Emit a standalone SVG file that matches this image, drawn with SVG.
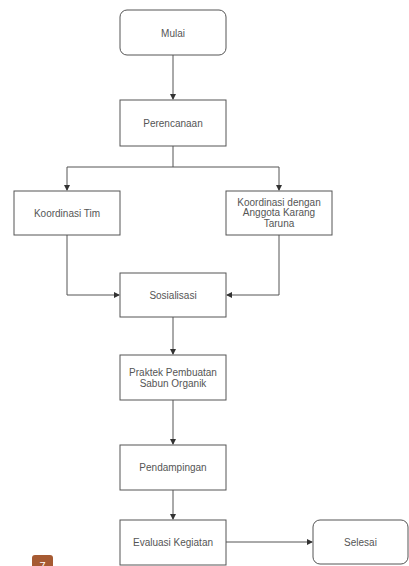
<svg xmlns="http://www.w3.org/2000/svg" width="409" height="566" viewBox="0 0 409 566">
<defs>
<style>
.box{fill:#fff;stroke:#555;stroke-width:1}
.t{font-family:"Liberation Sans",Arial,sans-serif;font-size:10px;fill:#555;text-anchor:middle}
.c{fill:none;stroke:#555;stroke-width:1}
</style>
<marker id="ah" markerWidth="6" markerHeight="6" refX="5" refY="3" orient="auto" markerUnits="userSpaceOnUse">
<path d="M0,0 L6,3 L0,6 Z" fill="#333"/>
</marker>
</defs>
<rect width="409" height="566" fill="#fff"/>
<g id="connectors">
<path class="c" d="M173,55 V99" marker-end="url(#ah)"/>
<path class="c" d="M173,146 V167 H67 V190" marker-end="url(#ah)"/>
<path class="c" d="M173,167 H279 V190" marker-end="url(#ah)"/>
<path class="c" d="M67,235 V295 H119" marker-end="url(#ah)"/>
<path class="c" d="M279,235 V295 H227" marker-end="url(#ah)"/>
<path class="c" d="M173,317 V354" marker-end="url(#ah)"/>
<path class="c" d="M173,400 V444" marker-end="url(#ah)"/>
<path class="c" d="M173,490 V519" marker-end="url(#ah)"/>
<path class="c" d="M226,542 H312" marker-end="url(#ah)"/>
</g>
<g id="mulai"><rect class="box" x="120" y="10" width="106" height="45" rx="7"/><text class="t" x="173" y="37">Mulai</text></g>
<g id="perencanaan"><rect class="box" x="120" y="100" width="106" height="46"/><text class="t" x="173" y="126.5">Perencanaan</text></g>
<g id="koordinasi-tim"><rect class="box" x="14" y="191" width="106" height="44"/><text class="t" x="67" y="216.5">Koordinasi Tim</text></g>
<g id="koordinasi-karang-taruna"><rect class="box" x="226" y="191" width="106" height="44"/><text class="t" x="279" y="205.5">Koordinasi dengan</text><text class="t" x="279" y="216">Anggota Karang</text><text class="t" x="279" y="226.5">Taruna</text></g>
<g id="sosialisasi"><rect class="box" x="120" y="273" width="106" height="44"/><text class="t" x="173" y="298.5">Sosialisasi</text></g>
<g id="praktek"><rect class="box" x="120" y="355" width="106" height="45"/><text class="t" x="173" y="376">Praktek Pembuatan</text><text class="t" x="173" y="387">Sabun Organik</text></g>
<g id="pendampingan"><rect class="box" x="120" y="445" width="106" height="45"/><text class="t" x="173" y="471">Pendampingan</text></g>
<g id="evaluasi"><rect class="box" x="120" y="520" width="106" height="45"/><text class="t" x="173" y="546">Evaluasi Kegiatan</text></g>
<g id="selesai"><rect class="box" x="313" y="520" width="95" height="44" rx="7"/><text class="t" x="360.5" y="546">Selesai</text></g>
<g id="page-number"><rect x="32" y="555" width="21" height="16" rx="3" fill="#a65a32"/><text x="42.5" y="570" font-family="Liberation Sans,Arial,sans-serif" font-size="11" fill="#fff" text-anchor="middle">7</text></g>
</svg>
